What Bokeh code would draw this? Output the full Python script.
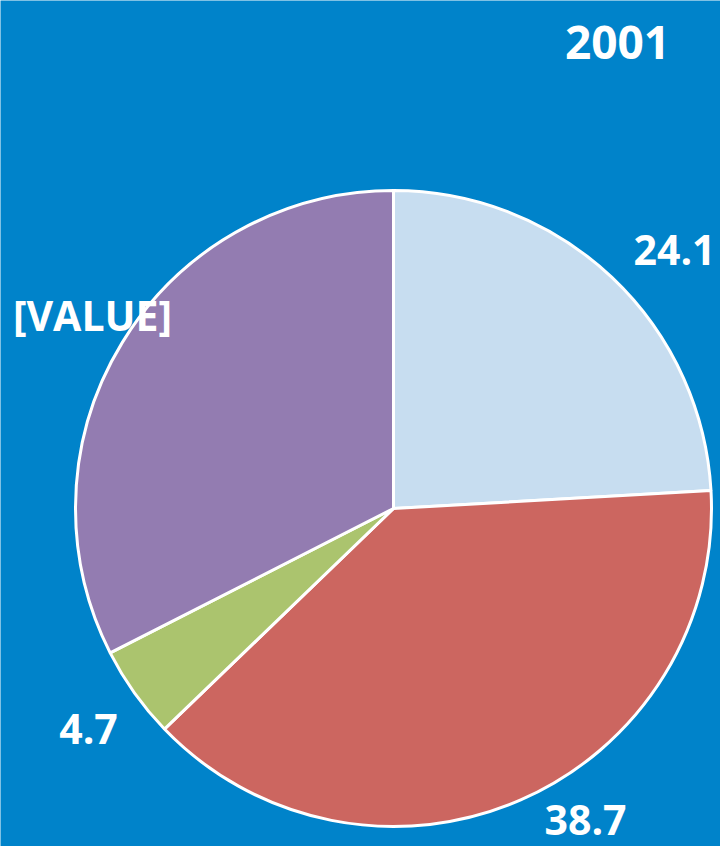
import math
from bokeh.plotting import figure
from bokeh.models import Range1d, ColumnDataSource
from bokeh.core.properties import value
from bokeh.embed import file_html
from bokeh.resources import INLINE

# ---- data ----
title_text = "2001"
categories = ["A", "B", "C", "D"]
values = [24.1, 38.7, 4.7, 32.5]
labels = ["24.1", "38.7", "4.7", "[VALUE]"]
colors = ["#C7DDF0", "#CC6660", "#ABC46E", "#937CB1"]

BG = "#0083CA"
W, H = 720, 846
# data coords: x = screen px, y = 846 - screen px
p = figure(width=W, height=H, output_backend="svg", toolbar_location=None,
           x_range=Range1d(0, 720), y_range=Range1d(0, 846),
           min_border=0)
p.axis.visible = False
p.grid.visible = False
p.outline_line_color = None
p.background_fill_color = BG
p.border_fill_color = BG

cx, cy, r = 393, 846 - 508, 318
total = sum(values)
starts, ends = [], []
cum = 0.0
for v in values:
    starts.append(math.pi / 2 - cum / total * 2 * math.pi)
    cum += v
    ends.append(math.pi / 2 - cum / total * 2 * math.pi)

src = ColumnDataSource(dict(start=starts, end=ends, color=colors, cat=categories))
p.wedge(x=cx, y=cy, radius=r, start_angle="start", end_angle="end",
        direction="clock", fill_color="color", line_color="white",
        line_width=3, source=src)

# label positions (screen px in the reference frame)
lab_x = [674, 585, 88, 92]
lab_y = [846 - 249, 846 - 819, 846 - 728, 846 - 314]
p.text(x=lab_x, y=lab_y, text=labels, text_color="white",
       text_font=value("Open Sans"), text_font_style="bold",
       text_font_size="41px", text_align="center", text_baseline="middle")

p.text(x=[617], y=[846 - 42], text=[title_text], text_color="white",
       text_font=value("Open Sans"), text_font_style="bold",
       text_font_size="46px", text_align="center", text_baseline="middle")

open("out.html", "w").write(file_html(p, INLINE))
